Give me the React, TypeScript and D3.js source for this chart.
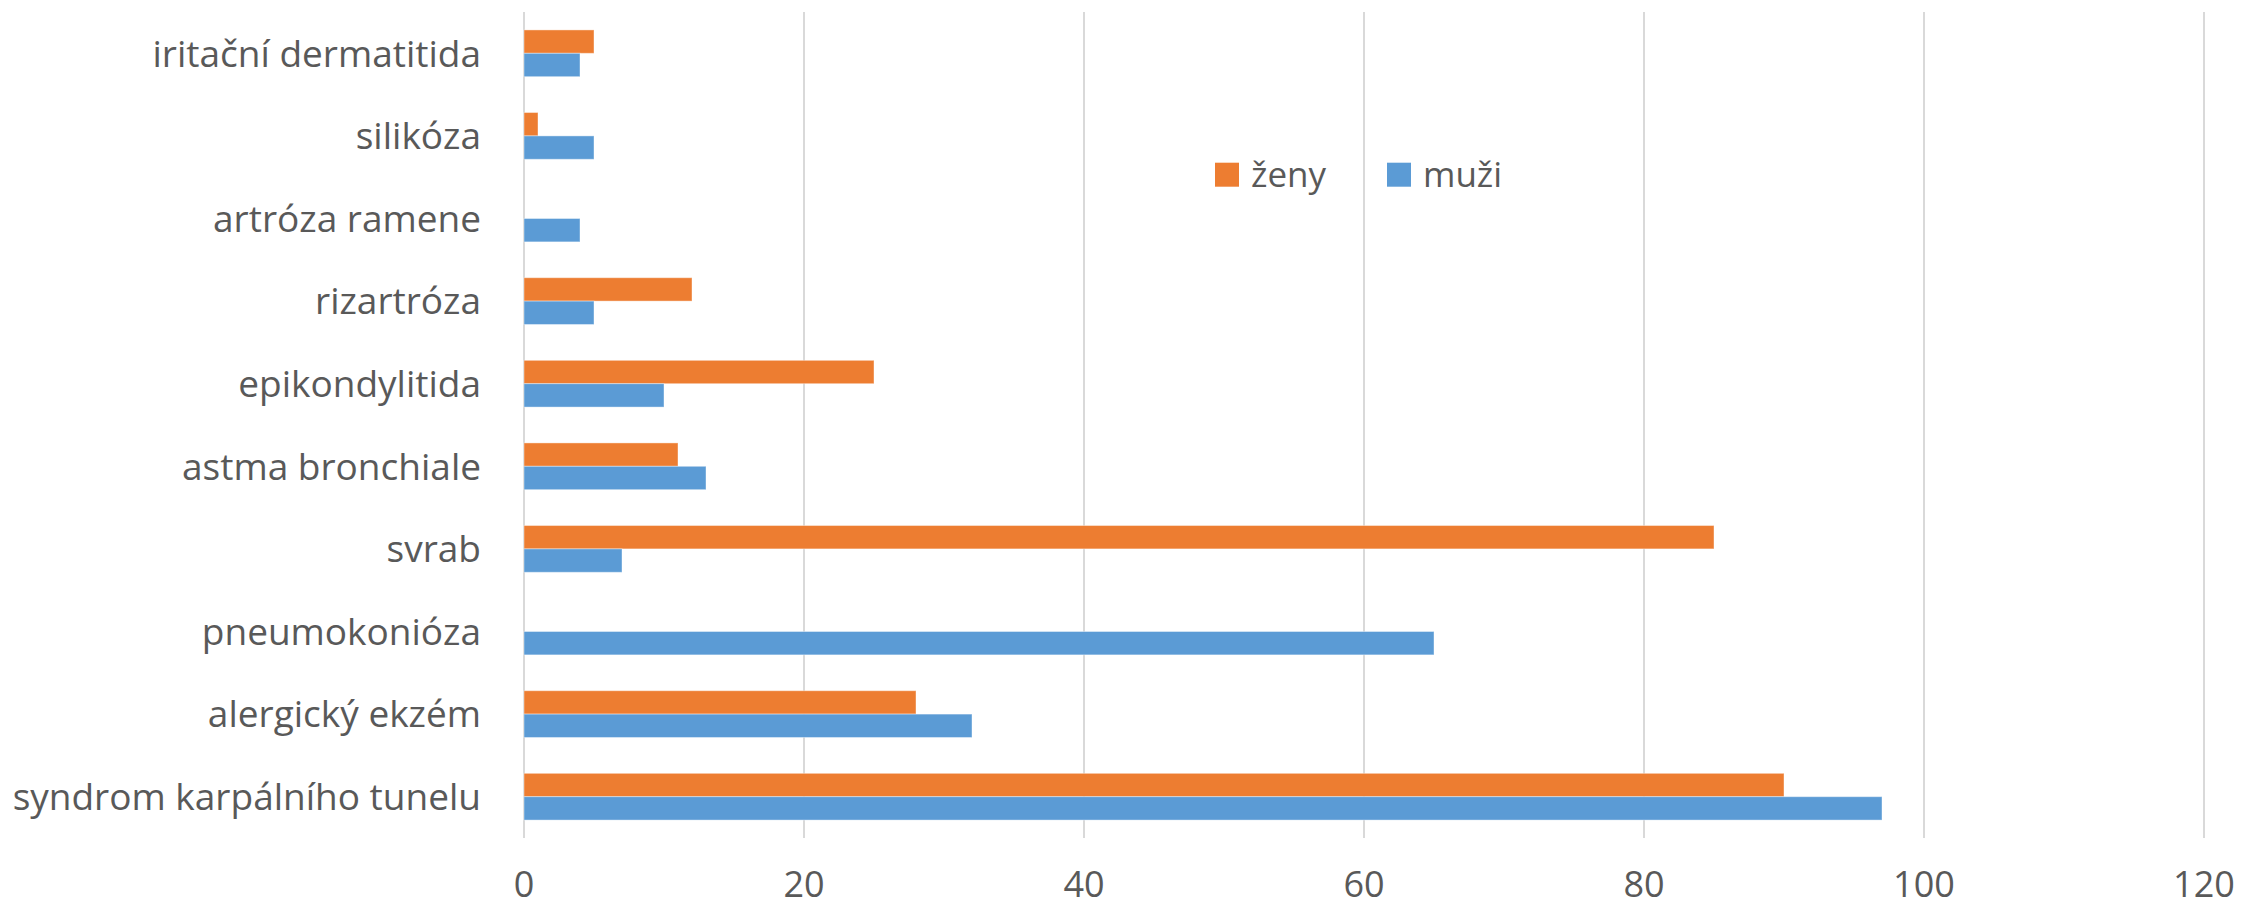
import React from "react";
import * as d3 from "d3";

// --- Data ---
const categories = [
  "iritační dermatitida",
  "silikóza",
  "artróza ramene",
  "rizartróza",
  "epikondylitida",
  "astma bronchiale",
  "svrab",
  "pneumokonióza",
  "alergický ekzém",
  "syndrom karpálního tunelu",
];
const zenyValues = [5, 1, 0, 12, 25, 11, 85, 0, 28, 90];
const muziValues = [4, 5, 4, 5, 10, 13, 7, 65, 32, 97];
const xTicks = [0, 20, 40, 60, 80, 100, 120];
const seriesNames = ["ženy", "muži"];
const seriesColors = ["#ED7D31", "#5B9BD5"];

const WIDTH = 2243;
const HEIGHT = 909;
const FONT = "'Open Sans', 'Noto Sans', sans-serif";
const TEXT_COLOR = "#595959";

document.body.style.margin = "0";

const App: React.FC = () => {
  const margin = { top: 12, right: 39, bottom: 71, left: 524 };

  const x = d3
    .scaleLinear()
    .domain([0, 120])
    .range([margin.left, WIDTH - margin.right]);

  const y = d3
    .scaleBand()
    .domain(categories)
    .range([margin.top, HEIGHT - margin.bottom]);

  // two bars per category, orange on top, blue below (gap width ~150%)
  const barH = y.bandwidth() * 0.283;

  const series = [zenyValues, muziValues];

  return (
    <svg width={WIDTH} height={HEIGHT} style={{ display: "block", background: "#fff" }}>
      {/* gridlines */}
      {xTicks.map((t) => (
        <line
          key={t}
          x1={x(t)}
          x2={x(t)}
          y1={margin.top}
          y2={HEIGHT - margin.bottom}
          stroke="#D9D9D9"
          strokeWidth={2}
        />
      ))}

      {/* bars */}
      {categories.map((c, i) => {
        const mid = y(c)! + y.bandwidth() / 2;
        return series.map((vals, s) =>
          vals[i] > 0 ? (
            <rect
              key={c + s}
              x={x(0)}
              y={s === 0 ? mid - barH : mid}
              width={x(vals[i]) - x(0)}
              height={barH}
              fill={seriesColors[s]}
              stroke="#fff"
              strokeOpacity={0.4}
              strokeWidth={1}
            />
          ) : null
        );
      })}

      {/* category labels */}
      {categories.map((c) => (
        <text
          key={c}
          x={481}
          y={y(c)! + y.bandwidth() / 2}
          dy="0.36em"
          textAnchor="end"
          fontFamily={FONT}
          fontSize={37}
          fill={TEXT_COLOR}
        >
          {c}
        </text>
      ))}

      {/* x tick labels */}
      {xTicks.map((t) => (
        <text
          key={t}
          x={x(t)}
          y={897}
          textAnchor="middle"
          fontFamily={FONT}
          fontSize={36}
          fill={TEXT_COLOR}
        >
          {t}
        </text>
      ))}

      {/* legend */}
      {seriesNames.map((name, s) => {
        const lx = s === 0 ? 1215 : 1387;
        return (
          <g key={name}>
            <rect x={lx} y={162.7} width={24} height={24} fill={seriesColors[s]} />
            <text
              x={lx + 36}
              y={186.5}
              fontFamily={FONT}
              fontSize={35}
              fill={TEXT_COLOR}
            >
              {name}
            </text>
          </g>
        );
      })}
    </svg>
  );
};

export default App;
